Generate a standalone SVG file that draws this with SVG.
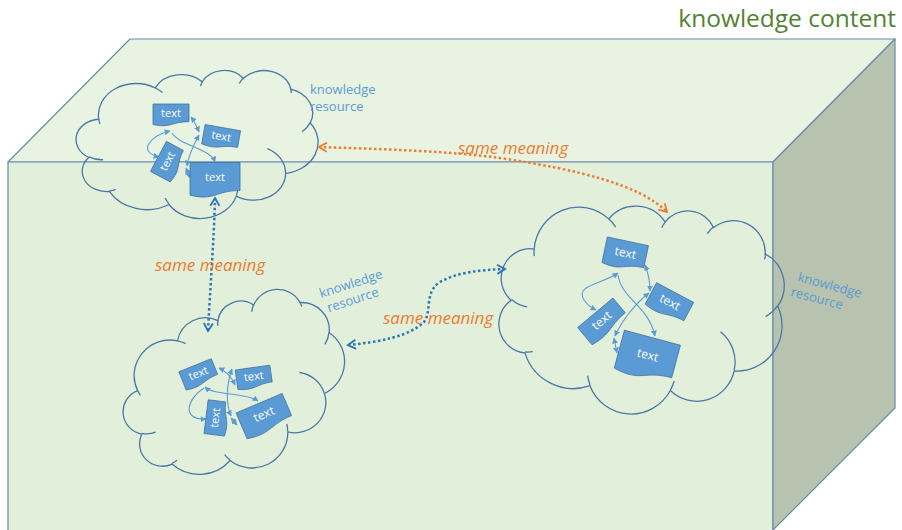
<svg xmlns="http://www.w3.org/2000/svg" xmlns:xlink="http://www.w3.org/1999/xlink" width="902" height="530" viewBox="0 0 902 530">
  <style>
    .edge { stroke: #6A8CAB; stroke-width: 1.2; stroke-linejoin: round; }
    .cloud { fill: none; stroke: #4A78A6; stroke-width: 1.3; vector-effect: non-scaling-stroke; }
    .docshape { fill: #5B9BD5; stroke: #41719C; stroke-width: 0.8; vector-effect: non-scaling-stroke; }
    .doctext { font-family: "Open Sans", "Liberation Sans", sans-serif; fill: #FFFFFF; text-anchor: middle; }
    .link { fill: none; stroke: #5B9BD5; stroke-width: 1.1; marker-start: url(#tri); marker-end: url(#tri); }
    .link1 { fill: none; stroke: #5B9BD5; stroke-width: 1.1; marker-end: url(#tri); }
    .res { font-family: "Open Sans", "Liberation Sans", sans-serif; font-size: 13px; fill: #5B9BD5; }
    .same { font-family: "Open Sans", "Liberation Sans", sans-serif; font-size: 17px; font-style: italic; fill: #ED7D31; }
    .dotO { fill: none; stroke: #ED7D31; stroke-width: 2.5; stroke-dasharray: 2.5 2.5; marker-start: url(#openO); marker-end: url(#openO); }
    .dotB { fill: none; stroke: #2E75B6; stroke-width: 2.5; stroke-dasharray: 2.5 2.5; marker-start: url(#openB); marker-end: url(#openB); }
  </style>
  <defs>
    <!-- cloud outline in a 43200 x 43200 box -->
    <path id="cloudOutline" class="cloud" d="M3900,14370 A6753,9190 0 0 1 14003,5200 A5333,7267 0 0 1 22454,3428 A4365,5945 0 0 1 29830,2476 A4857,6595 0 0 1 38316,5572 A5333,7273 0 0 1 41814,15455 A6775,9220 0 0 1 37401,30199 A5785,7867 0 0 1 28550,36807 A6752,9215 0 0 1 16473,39256 A7720,10543 0 0 1 5804,35459 A4360,5918 0 0 1 2112,25537 A4345,5945 0 0 1 3900,14370 Z"/>
    <!-- short inner strokes of the cloud lobes -->
    <path id="cloudInner" class="cloud" d="M4693,26177 A4345,5945 0 0 1 2159,25379 M6928,34899 A4360,5918 0 0 1 5821,35280 M16478,39090 A6752,9215 0 0 1 15811,37350 M28827,34751 A6752,9215 0 0 1 28560,36660 M34129,22954 A5785,7867 0 0 1 37377,30087 M41798,15354 A5333,7273 0 0 1 40349,18031 M38324,5426 A4857,6595 0 0 1 38400,6689 M29078,3952 A4857,6595 0 0 1 29820,2340 M22141,4720 A4365,5945 0 0 1 22501,3329 M14000,5192 A6753,9190 0 0 1 15303,6543 M4127,15789 A6753,9190 0 0 1 3900,14370"/>
    <!-- document shape with wavy bottom, 100 x 100 centred on origin -->
    <path id="doc" class="docshape" d="M-50,-50 H50 V30.2 C0,30.2 0,60.7 -50,43.4 Z"/>
    <marker id="tri" viewBox="0 0 10 10" refX="9" refY="5" markerWidth="6" markerHeight="6" markerUnits="userSpaceOnUse" orient="auto-start-reverse">
      <path d="M0,0 L10,5 L0,10 Z" fill="#5B9BD5"/>
    </marker>
    <marker id="openO" viewBox="0 0 12 12" refX="10" refY="6" markerWidth="11" markerHeight="11" markerUnits="userSpaceOnUse" orient="auto-start-reverse">
      <path d="M1.5,1 L10,6 L1.5,11" fill="none" stroke="#ED7D31" stroke-width="2"/>
    </marker>
    <marker id="openB" viewBox="0 0 12 12" refX="10" refY="6" markerWidth="11" markerHeight="11" markerUnits="userSpaceOnUse" orient="auto-start-reverse">
      <path d="M1.5,1 L10,6 L1.5,11" fill="none" stroke="#2E75B6" stroke-width="2"/>
    </marker>
  </defs>

  <rect width="902" height="530" fill="#FFFFFF"/>

  <!-- the box -->
  <g id="box">
    <polygon class="edge" points="8,162 130,39 895,39 773,162" fill="#E8F3E1"/>
    <polygon class="edge" points="8,162 773,162 773,531 8,531" fill="#E2EFDA"/>
    <polygon class="edge" points="773,162 895,39 895,408 773,530" fill="#B7C3AE"/>
  </g>

  <text id="title" x="896" y="27" text-anchor="end" font-family="Open Sans, Liberation Sans, sans-serif" font-size="24.5" fill="#548235">knowledge content</text>

  <!-- resource 1 (upper left) -->
  <g id="resource1">
    <g transform="translate(197.5,144) scale(0.0055787,0.0034259) translate(-21600,-21600)">
      <use xlink:href="#cloudOutline"/>
      <use xlink:href="#cloudInner"/>
    </g>
    <path class="link" d="M170,131 C150,136 137,152 159,157"/>
    <path class="link" d="M191,117 C195,122 197,127 199,132"/>
    <path class="link1" d="M172,133 C180,146 210,148 215,162"/>
    <path class="link" d="M199,135 C192,148 188,158 187,166"/>
    <path class="link" d="M186,168 L190,178"/>
    <g transform="translate(171,115)"><use xlink:href="#doc" transform="scale(0.36,0.22)"/><text class="doctext" y="2" font-size="11">text</text></g>
    <g transform="translate(221,138) rotate(10)"><use xlink:href="#doc" transform="scale(0.36,0.21)"/><text class="doctext" y="2" font-size="11">text</text></g>
    <g transform="translate(169,162) rotate(-62)"><use xlink:href="#doc" transform="scale(0.34,0.24)"/><text class="doctext" y="2" font-size="11">text</text></g>
    <g transform="translate(215,180)"><use xlink:href="#doc" transform="scale(0.5,0.35)"/><text class="doctext" y="1" font-size="11">text</text></g>
    <text class="res" x="310" y="94">knowledge</text>
    <text class="res" x="310" y="111">resource</text>
  </g>

  <!-- resource 2 (lower left) -->
  <g id="resource2">
    <g transform="translate(235,388) rotate(-18) scale(0.005278,0.003819) translate(-21600,-21600)">
      <use xlink:href="#cloudOutline"/>
      <use xlink:href="#cloudInner"/>
    </g>
    <path class="link" d="M219,368 C228,372 232,378 235,385"/>
    <path class="link" d="M205,387 C215,396 245,392 258,401"/>
    <path class="link1" d="M204,388 C188,398 180,420 206,419"/>
    <path class="link" d="M232,369 C226,385 226,405 231,416"/>
    <path class="link" d="M231,418 L237,425"/>
    <g transform="translate(199,375) rotate(-22)"><use xlink:href="#doc" transform="scale(0.35,0.21)"/><text class="doctext" y="2" font-size="11">text</text></g>
    <g transform="translate(254,378) rotate(-8)"><use xlink:href="#doc" transform="scale(0.35,0.21)"/><text class="doctext" y="2" font-size="11">text</text></g>
    <g transform="translate(217,418) rotate(-83)"><use xlink:href="#doc" transform="scale(0.34,0.22)"/><text class="doctext" y="2" font-size="11">text</text></g>
    <g transform="translate(265,417) rotate(-23)"><use xlink:href="#doc" transform="scale(0.5,0.3)"/><text class="doctext" y="1" font-size="12">text</text></g>
    <g transform="translate(321,298) rotate(-18)">
      <text class="res" x="0" y="0">knowledge</text>
      <text class="res" x="3" y="16">resource</text>
    </g>
  </g>

  <!-- resource 3 (right) -->
  <g id="resource3">
    <g transform="translate(641,308) rotate(12) scale(0.006597,0.004907) translate(-21600,-21600)">
      <use xlink:href="#cloudOutline"/>
      <use xlink:href="#cloudInner"/>
    </g>
    <path class="link" d="M618,273 C600,285 575,285 584,300 C588,306 592,308 596,310"/>
    <path class="link" d="M645,265 C649,275 650,283 650,291"/>
    <path class="link1" d="M618,275 C622,300 648,305 655,336"/>
    <path class="link" d="M649,293 C636,303 622,320 615,336"/>
    <path class="link" d="M614,338 L617,353"/>
    <g transform="translate(625,255) rotate(12)"><use xlink:href="#doc" transform="scale(0.42,0.28)"/><text class="doctext" y="2" font-size="12">text</text></g>
    <g transform="translate(669,304) rotate(28)"><use xlink:href="#doc" transform="scale(0.42,0.26)"/><text class="doctext" y="2" font-size="12">text</text></g>
    <g transform="translate(603,322) rotate(-40)"><use xlink:href="#doc" transform="scale(0.46,0.24)"/><text class="doctext" y="2" font-size="12">text</text></g>
    <g transform="translate(647,358) rotate(15)"><use xlink:href="#doc" transform="scale(0.58,0.42)"/><text class="doctext" y="1" font-size="12">text</text></g>
    <g transform="translate(797,281) rotate(15)">
      <text class="res" x="0" y="0">knowledge</text>
      <text class="res" x="-3" y="16">resource</text>
    </g>
  </g>

  <!-- same-meaning connectors -->
  <g id="connectors">
    <path class="dotO" d="M319,147 C380,149 450,151 500,158 C580,170 640,185 667,212"/>
    <path class="dotB" d="M215,198 C214,240 210,290 208,331"/>
    <path class="dotB" d="M348,345 C380,342 410,336 424,322 C432,312 424,292 440,282 C458,272 480,270 505,269"/>
    <text class="same" x="458" y="154">same meaning</text>
    <text class="same" x="155" y="271">same meaning</text>
    <text class="same" x="383" y="324">same meaning</text>
  </g>
</svg>
